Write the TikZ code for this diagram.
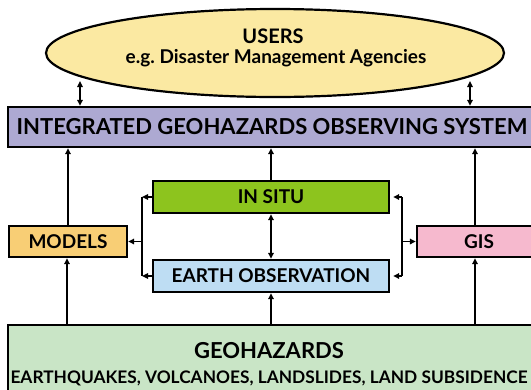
\documentclass[tikz,border=0pt]{standalone}
\usepackage{fontspec}
\setmainfont{Lato}
\usetikzlibrary{arrows.meta,shapes.geometric}

\definecolor{userfill}{HTML}{FBE9A2}
\definecolor{igosfill}{HTML}{ADA9D2}
\definecolor{situfill}{HTML}{8DC41E}
\definecolor{eofill}{HTML}{BEDDF3}
\definecolor{modfill}{HTML}{F8CE75}
\definecolor{gisfill}{HTML}{F6B9CE}
\definecolor{geofill}{HTML}{C9E5C6}

\tikzset{
  box/.style={draw=black, line width=2.4pt, rectangle, inner sep=0pt,
              font=\bfseries\fontsize{19}{22}\selectfont},
  label/.style={inner sep=0pt, anchor=base, font=\bfseries},
  arr/.style={line width=1.8pt, -{Triangle[length=6pt,width=5.5pt]}},
  dblarr/.style={line width=1.8pt, {Triangle[length=6pt,width=5.5pt]}-{Triangle[length=6pt,width=5.5pt]}},
  plain/.style={line width=1.8pt},
}

\begin{document}
\begin{tikzpicture}[x=1pt,y=-1pt]
\useasboundingbox (0,0) rectangle (531,389);
\clip (0,0) rectangle (531,389);

% users ellipse
\node[ellipse, draw=black, line width=2.2pt, fill=userfill,
      minimum width=458pt, minimum height=88pt, inner sep=0pt] (users) at (275,53) {};
\node[label, font=\bfseries\fontsize{20}{22}\selectfont] (userstitle) at (273,43.5) {USERS};
\node[label, font=\bfseries\fontsize{19}{22}\selectfont] (userssub) at (276,63.5) {e.g.\ Disaster Management Agencies};

% observing system bar
\node[box, fill=igosfill, minimum width=528pt, minimum height=40pt,
      font=\bfseries\fontsize{22}{24}\selectfont] (igos) at (272,127)
  {INTEGRATED GEOHAZARDS OBSERVING SYSTEM};

% data sources
\node[box, fill=situfill, minimum width=236pt, minimum height=32pt] (insitu) at (271,197) {IN SITU};
\node[box, fill=eofill, minimum width=236pt, minimum height=32pt] (eo) at (271,276) {EARTH OBSERVATION};

% tools
\node[box, fill=modfill, minimum width=118pt, minimum height=31pt] (models) at (68,241.5) {MODELS};
\node[box, fill=gisfill, minimum width=124pt, minimum height=31pt] (gis) at (479,241.5) {GIS};

% geohazards base
\node[box, fill=geofill, minimum width=528pt, minimum height=75pt] (geo) at (272,362.5) {};
\node[label, font=\bfseries\fontsize{22}{24}\selectfont] (geotitle) at (269,358) {GEOHAZARDS};
\node[label, font=\bfseries\fontsize{17.3}{20}\selectfont] (geolist) at (269,383)
  {EARTHQUAKES, VOLCANOES, LANDSLIDES, LAND SUBSIDENCE};

% helper positions for vertical links and brackets
\coordinate (cl) at (67,0);
\coordinate (cr) at (475,0);
\coordinate (ua) at (80,81);
\coordinate (ub) at (470,81);
\coordinate (bl) at (142,0);
\coordinate (br) at (402,0);

% users <-> system
\draw[dblarr] (ua) -- (ua |- igos.north);
\draw[dblarr] (ub) -- (ub |- igos.north);

% upward links into the system bar
\draw[arr] (models.north) -- (models.north |- igos.south);
\draw[arr] (insitu.north) -- (insitu.north |- igos.south);
\draw[arr] (cr |- gis.north) -- (cr |- igos.south);

% in situ <-> earth observation
\draw[dblarr] (insitu.south) -- (eo.north);

% links from geohazards
\draw[arr] (cl |- geo.north) -- (cl |- models.south);
\draw[arr] (eo.south |- geo.north) -- (eo.south);
\draw[arr] (cr |- geo.north) -- (cr |- gis.south);

% left bracket
\draw[plain] (bl |- insitu.west) -- (bl |- eo.west);
\draw[arr] (insitu.west) -- (bl |- insitu.west);
\draw[arr] (eo.west) -- (bl |- eo.west);
\draw[arr] (bl |- models.east) -- (models.east);

% right bracket
\draw[plain] (br |- insitu.east) -- (br |- eo.east);
\draw[arr, shorten >=3pt] (br |- insitu.east) -- (insitu.east);
\draw[arr, shorten >=3pt] (br |- eo.east) -- (eo.east);
\draw[arr] (br |- gis.west) -- (gis.west);
\end{tikzpicture}
\end{document}
